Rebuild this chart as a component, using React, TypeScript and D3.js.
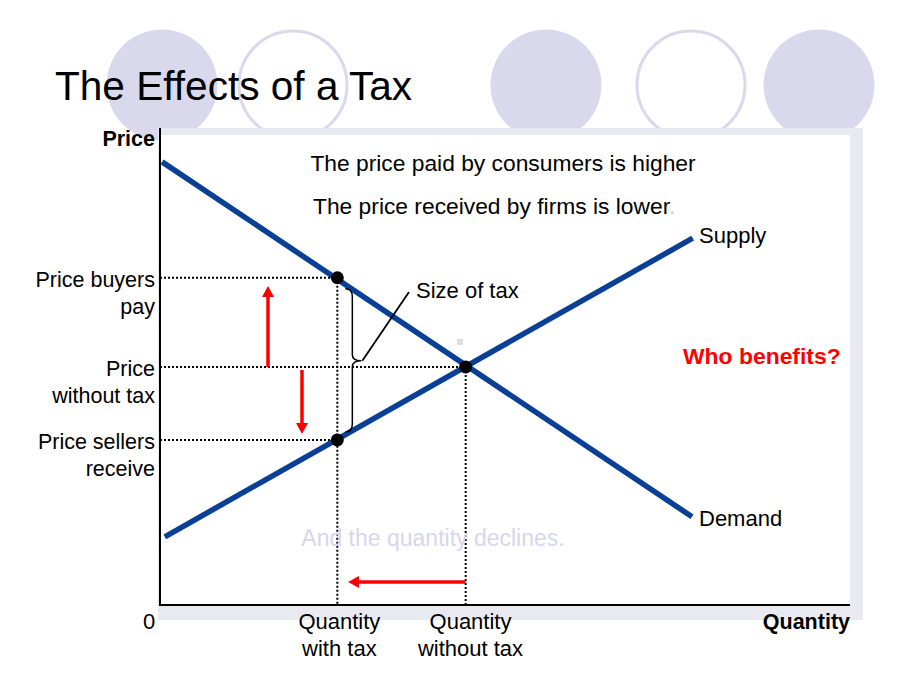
import React from "react";
import * as d3 from "d3";

// ---- data (economic units) ----
const demand = [
  { q: 0.03, p: 9.29 },
  { q: 7.71, p: 1.85 },
];
const supply = [
  { q: 0.07, p: 1.43 },
  { q: 7.72, p: 7.69 },
];
const equilibrium = { q: 4.43, p: 4.99 };
const taxQuantity = 2.57;
const priceBuyers = 6.86;
const priceSellers = 3.46;
const priceLabels = [
  { p: 6.86, lines: ["Price buyers", "pay"] },
  { p: 4.99, lines: ["Price", "without tax"] },
  { p: 3.46, lines: ["Price sellers", "receive"] },
];
const quantityLabels = [
  { q: 2.6, lines: ["Quantity", "with tax"] },
  { q: 4.5, lines: ["Quantity", "without tax"] },
];
const decorCircles = [
  { cx: 162, filled: true },
  { cx: 293, filled: false },
  { cx: 546, filled: true },
  { cx: 691, filled: false },
  { cx: 819, filled: true },
];

const W = 920;
const H = 690;
const x0 = 160, x1 = 850, y0 = 605, y1 = 128;
const x = d3.scaleLinear().domain([0, 10]).range([x0, x1]);
const y = d3.scaleLinear().domain([0, 10]).range([y0, y1]);
const line = d3.line<{ q: number; p: number }>().x((d) => x(d.q)).y((d) => y(d.p));

const FONT = "'Liberation Sans', Arial, Helvetica, sans-serif";
const BLUE = "#0a3f96";
const RED = "#ff0000";

function Arrow({ xa, ya, xb, yb }: { xa: number; ya: number; xb: number; yb: number }) {
  const dx = xb - xa, dy = yb - ya;
  const len = Math.hypot(dx, dy);
  const ux = dx / len, uy = dy / len;
  const hl = 11, hw = 6;
  const bx = xb - ux * hl, by = yb - uy * hl;
  const px = -uy, py = ux;
  return (
    <g>
      <line x1={xa} y1={ya} x2={bx} y2={by} stroke={RED} strokeWidth={3.5} />
      <polygon
        points={`${xb},${yb} ${bx + px * hw},${by + py * hw} ${bx - px * hw},${by - py * hw}`}
        fill={RED}
      />
    </g>
  );
}

export default function App() {
  const qx = x(taxQuantity);
  const ex = x(equilibrium.q);
  const ey = y(equilibrium.p);
  const by = y(priceBuyers);
  const sy = y(priceSellers);
  const dot = { stroke: "#000", strokeWidth: 2, strokeDasharray: "2,2" };

  // brace
  const bxL = qx + 8, bxR = qx + 15, bTop = by + 11, bBot = sy - 8, bMid = (by + sy) / 2 + 2;
  const brace = `M${bxL},${bTop} Q${bxR},${bTop} ${bxR},${bTop + 8} L${bxR},${bMid - 6} Q${bxR},${bMid} ${bxR + 9},${bMid}
    Q${bxR},${bMid} ${bxR},${bMid + 6} L${bxR},${bBot - 8} Q${bxR},${bBot} ${bxL},${bBot}`;

  return (
    <svg width={W} height={H} style={{ display: "block", position: "absolute", left: 0, top: 0 }}>
      <rect width={W} height={H} fill="#fff" />
      {decorCircles.map((c, i) => (
        <circle
          key={i}
          cx={c.cx}
          cy={85}
          r={c.filled ? 55.5 : 54}
          fill={c.filled ? "#dad8ec" : "#fff"}
          stroke={c.filled ? "none" : "#dad8ec"}
          strokeWidth={3}
        />
      ))}
      <text x={55} y={100} fontFamily={FONT} fontSize={40.6} fill="#000">
        The Effects of a Tax
      </text>

      {/* plot panel with shadow */}
      <rect x={158} y={128} width={705} height={492} fill="#e9e9f1" />
      <rect x={161} y={135} width={689} height={470} fill="#fff" />

      {/* dotted guides */}
      <line x1={x0} y1={by} x2={qx} y2={by} {...dot} />
      <line x1={x0} y1={ey} x2={ex} y2={ey} {...dot} />
      <line x1={x0} y1={sy} x2={qx} y2={sy} {...dot} />
      <line x1={qx} y1={by} x2={qx} y2={y0} {...dot} />
      <line x1={ex} y1={ey} x2={ex} y2={y0} {...dot} />

      {/* curves */}
      <path d={line(demand) || ""} stroke={BLUE} strokeWidth={5.5} fill="none" />
      <path d={line(supply) || ""} stroke={BLUE} strokeWidth={5.5} fill="none" />

      {/* axes */}
      <line x1={x0} y1={y1} x2={x0} y2={y0 + 1} stroke="#000" strokeWidth={2} />
      <line x1={x0} y1={y0} x2={x1} y2={y0} stroke="#000" strokeWidth={2.2} />

      {/* points */}
      <circle cx={qx} cy={by} r={6.5} fill="#000" />
      <circle cx={qx} cy={sy} r={6.5} fill="#000" />
      <circle cx={ex} cy={ey} r={6.5} fill="#000" />

      {/* brace and leader */}
      <path d={brace} stroke="#000" strokeWidth={1.5} fill="none" />
      <line x1={bxR + 10} y1={bMid} x2={409} y2={292} stroke="#000" strokeWidth={1.8} />
      <rect x={457} y={339} width={6} height={6} fill="#dedede" />

      {/* red arrows */}
      <Arrow xa={268} ya={ey} xb={268} yb={286} />
      <Arrow xa={302} ya={ey + 3} xb={302} yb={434} />
      <Arrow xa={ex} ya={582} xb={348} yb={582} />

      {/* texts */}
      <g fontFamily={FONT} fontSize={22} fill="#000">
        <text x={155} y={146} textAnchor="end" fontWeight="bold" fontSize={21.5}>Price</text>
        <text x={850} y={629} textAnchor="end" fontWeight="bold" fontSize={21.5}>Quantity</text>
        <text x={149} y={629} textAnchor="middle">0</text>
        <text x={503} y={171} textAnchor="middle" fontSize={22.8}>The price paid by consumers is higher</text>
        <text x={313} y={214} fontSize={22.8}>
          The price received by firms is lower<tspan fill="#c8c8e0">.</tspan>
        </text>
        <text x={416} y={298}>Size of tax</text>
        <text x={699} y={243}>Supply</text>
        <text x={699} y={526}>Demand</text>
        <text x={683} y={364} fill={RED} fontWeight="bold" fontSize={22.9}>Who benefits?</text>
        <text x={433} y={546} textAnchor="middle" fill="#d8d6ec" fontSize={23}>And the quantity declines.</text>
        {priceLabels.map((l, i) => (
          <text key={i} x={155} textAnchor="end" fontSize={21.5}>
            {l.lines.map((t, j) => (
              <tspan key={j} x={155} y={y(l.p) + 9 + j * 27}>{t}</tspan>
            ))}
          </text>
        ))}
        {quantityLabels.map((l, i) => (
          <text key={i} textAnchor="middle">
            {l.lines.map((t, j) => (
              <tspan key={j} x={x(l.q)} y={629 + j * 27}>{t}</tspan>
            ))}
          </text>
        ))}
      </g>
    </svg>
  );
}
